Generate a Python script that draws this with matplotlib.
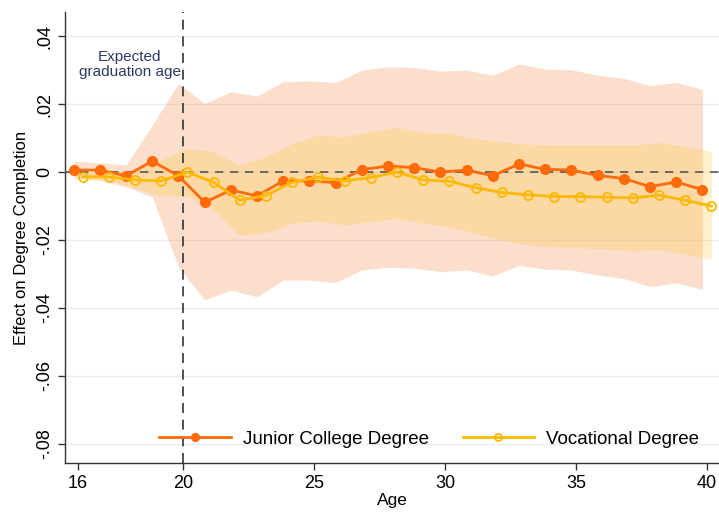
import numpy as np
import matplotlib
matplotlib.use("Agg")
import matplotlib.pyplot as plt

plt.rcParams['font.family'] = ['Liberation Sans', 'DejaVu Sans']

# data
ages = np.arange(16, 41)

junior = [0.0006, 0.0006, -0.0011, 0.0032, -0.0011, -0.0089, -0.0053, -0.0070, -0.0026, -0.0026,
          -0.0031, 0.0007, 0.0018, 0.0013, 0.0000, 0.0006, -0.0011, 0.0024, 0.0008, 0.0006,
          -0.0010, -0.0019, -0.0043, -0.0029, -0.0052]
junior_hi = [0.0032, 0.0027, 0.0021, 0.0138, 0.0261, 0.0202, 0.0236, 0.0224, 0.0266, 0.0268,
             0.0264, 0.0300, 0.0310, 0.0308, 0.0297, 0.0300, 0.0285, 0.0318, 0.0303, 0.0301,
             0.0285, 0.0276, 0.0254, 0.0264, 0.0243]
junior_lo = [-0.0018, -0.0025, -0.0043, -0.0073, -0.0279, -0.0376, -0.0347, -0.0367, -0.0318, -0.0318,
             -0.0325, -0.0288, -0.0280, -0.0283, -0.0293, -0.0288, -0.0306, -0.0274, -0.0286, -0.0288,
             -0.0303, -0.0313, -0.0337, -0.0326, -0.0345]

vocational = [-0.0014, -0.0014, -0.0023, -0.0026, 0.0000, -0.0030, -0.0083, -0.0069, -0.0030, -0.0015,
              -0.0026, -0.0016, 0.0000, -0.0023, -0.0027, -0.0046, -0.0060, -0.0067, -0.0072, -0.0072,
              -0.0074, -0.0076, -0.0068, -0.0083, -0.0100]
vocational_hi = [0.0000, 0.0000, 0.0005, 0.0035, 0.0070, 0.0060, 0.0021, 0.0045, 0.0084, 0.0109,
                 0.0104, 0.0119, 0.0133, 0.0116, 0.0114, 0.0099, 0.0089, 0.0082, 0.0079, 0.0079,
                 0.0079, 0.0079, 0.0087, 0.0075, 0.0060]
vocational_lo = [-0.0019, -0.0024, -0.0047, -0.0070, -0.0070, -0.0112, -0.0185, -0.0178, -0.0151, -0.0143,
                 -0.0156, -0.0146, -0.0136, -0.0151, -0.0161, -0.0180, -0.0200, -0.0215, -0.0220, -0.0223,
                 -0.0227, -0.0232, -0.0227, -0.0242, -0.0257]

shift = 0.17
xj = ages - shift
xv = ages + shift

c_jun = '#FF6A0A'
c_voc = '#FFB800'

fig = plt.figure(figsize=(7.19, 5.12), dpi=100)
ax = fig.add_axes([65/719, 49/512, 654/719, 451/512])

ax.set_xlim(15.5, 40.46)
ax.set_ylim(-0.0856, 0.0471)

yt = [-0.08, -0.06, -0.04, -0.02, 0, 0.02, 0.04]
ylab = ['-.08', '-.06', '-.04', '-.02', '0', '.02', '.04']
for v in yt:
    ax.axhline(v, color='#E6EEF1', lw=1.0, zorder=0)

ax.fill_between(xj, junior_lo, junior_hi, color='#F37F33', alpha=0.25, lw=0, zorder=1)
ax.fill_between(xv, vocational_lo, vocational_hi, color='#FFC832', alpha=0.25, lw=0, zorder=2)

ax.axhline(0, color='#555555', lw=1.2, ls=(0, (5, 4)), zorder=3)
ax.axvline(20, color='#333333', lw=1.2, ls=(0, (6, 4)), zorder=3)

ax.plot(xj, junior, color=c_jun, lw=2.0, marker='o', ms=7, mfc=c_jun, mec=c_jun,
        zorder=4, label='Junior College Degree')
ax.plot(xv, vocational, color=c_voc, lw=2.0, marker='o', ms=6.5, mfc='none', mec=c_voc,
        mew=1.3, zorder=5, label='Vocational Degree')

ax.text(17.98, 0.0316, 'Expected\ngraduation age', ha='center', va='center',
        fontsize=11, color='#2B3A67', linespacing=1.1)

ax.set_yticks(yt)
ax.set_yticklabels(ylab, rotation=90, va='center', fontsize=13)
ax.set_xticks([16, 20, 25, 30, 35, 40])
ax.tick_params(axis='x', labelsize=13, length=5, width=1, color='#333333')
ax.tick_params(axis='y', length=5, width=1, color='#333333')

ax.set_xlabel('Age', fontsize=12.5, labelpad=1)
ax.set_ylabel('Effect on Degree Completion', fontsize=12, labelpad=5)

for s in ['top', 'right']:
    ax.spines[s].set_visible(False)
for s in ['left', 'bottom']:
    ax.spines[s].set_color('#333333')
    ax.spines[s].set_linewidth(1.0)

leg = ax.legend(loc='lower center', bbox_to_anchor=(0.557, 0.0), ncol=2, frameon=False,
                fontsize=13.5, handlelength=3.8, handletextpad=0.65, columnspacing=1.8,
                markerscale=0.8, borderaxespad=0.4)

fig.savefig('out.png', dpi=100)
